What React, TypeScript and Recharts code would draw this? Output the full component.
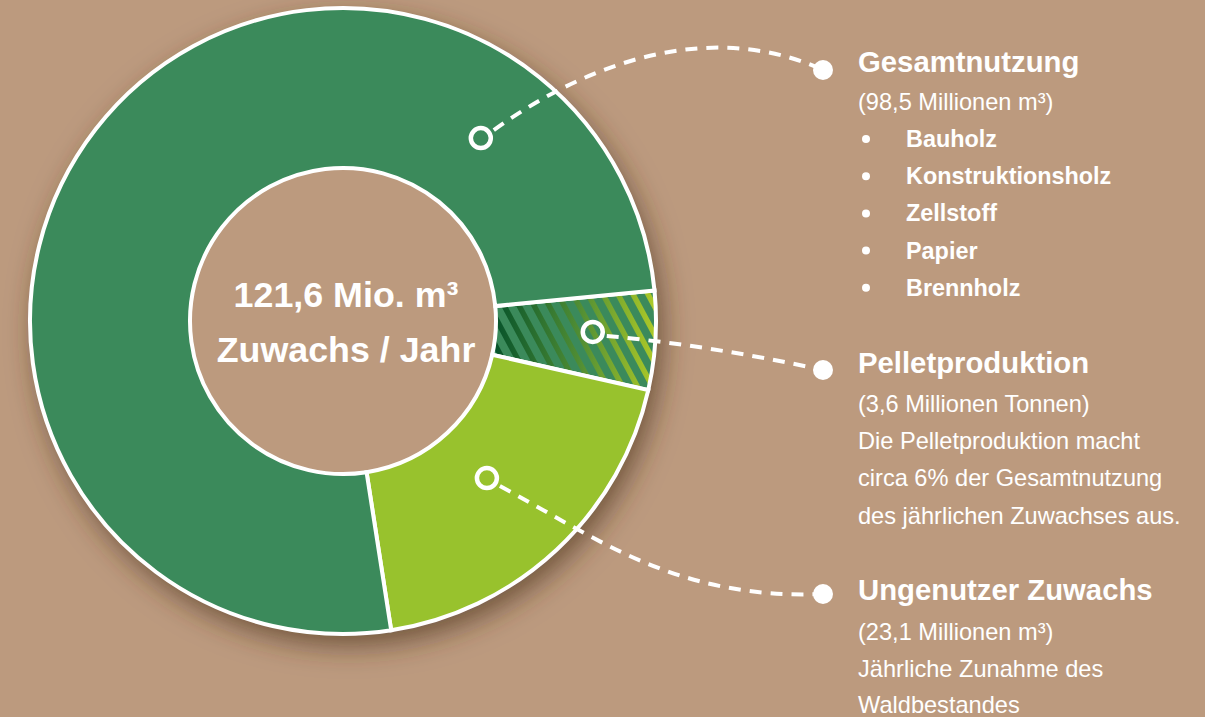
import React from 'react';
import { PieChart, Pie, Cell } from 'recharts';

// ---- data ----
const categories = ['Pelletproduktion', 'Ungenutzer Zuwachs', 'Gesamtnutzung'];
const values = [6.2, 23.1, 92.3];
const totalLabel = ['121,6 Mio. m³', 'Zuwachs / Jahr'];
const gesamtBullets = ['Bauholz', 'Konstruktionsholz', 'Zellstoff', 'Papier', 'Brennholz'];
const gesamtSub = '(98,5 Millionen m³)';
const pelletLines = ['(3,6 Millionen Tonnen)', 'Die Pelletproduktion macht', 'circa 6% der Gesamtnutzung', 'des jährlichen Zuwachses aus.'];
const ungenutztLines = ['(23,1 Millionen m³)', 'Jährliche Zunahme des', 'Waldbestandes'];

const data = categories.map((name, i) => ({ name, value: values[i] }));

const BG = '#bc9a7e';
const DARK = '#3b8a5b';
const LIME = '#98c22d';
const FONT = '"Liberation Sans", Arial, Helvetica, sans-serif';

const CX = 343;
const CY = 321;
const START = 5.6;

// connector anchors: angle (deg), radius, end dot y, curve control points
const anchors = [
  { angle: -2.5, r: 250, endY: 370, path: (x: number, y: number, ex: number, ey: number) => `M ${x + 14} ${y + 4} Q ${x + 120} ${y + 14} ${ex} ${ey}` },
  { angle: -47.5, r: 213, endY: 594, path: (x: number, y: number, ex: number, ey: number) => `M ${x + 13} ${y + 8} C ${x + 110} ${y + 60} ${x + 190} ${y + 122} ${ex} ${ey}` },
  { angle: 53, r: 229, endY: 70, path: (x: number, y: number, ex: number, ey: number) => `M ${x + 13} ${y - 8} C ${x + 120} ${y - 85} ${x + 240} ${y - 115} ${ex} ${ey}` },
];

const RAD = Math.PI / 180;

const renderLabel = (props: any) => {
  const { cx, cy, index } = props;
  const a = anchors[index];
  const x = cx + a.r * Math.cos(a.angle * RAD);
  const y = cy - a.r * Math.sin(a.angle * RAD);
  const ex = 823;
  const ey = a.endY;
  return (
    <g key={`lbl-${index}`}>
      <path d={a.path(x, y, ex, ey)} fill="none" stroke="#fff" strokeWidth={4} strokeDasharray="12 9" />
      <circle cx={x} cy={y} r={10} fill="none" stroke="#fff" strokeWidth={4.5} />
      <circle cx={ex} cy={ey} r={10} fill="#fff" />
    </g>
  );
};

const stripes: number[] = [];
for (let x = 380; x <= 700; x += 15) stripes.push(x);

export default function App() {
  const titleStyle = { fontFamily: FONT, fontWeight: 700, fontSize: 29.3, fill: '#fff' } as const;
  const regStyle = { fontFamily: FONT, fontWeight: 400, fontSize: 23.6, fill: '#fff' } as const;
  const bulletStyle = { fontFamily: FONT, fontWeight: 700, fontSize: 23.4, fill: '#fff' } as const;
  const centerStyle = { fontFamily: FONT, fontWeight: 700, fontSize: 35.8, fill: '#fff' } as const;
  return (
    <div style={{ position: 'absolute', left: 0, top: 0, width: 1205, height: 717, background: BG, overflow: 'hidden' }}>
      <svg width={1205} height={717} style={{ position: 'absolute', left: 0, top: 0 }}>
        <defs>
          <filter id="ringShadow" x="-20%" y="-20%" width="140%" height="140%">
            <feDropShadow dx={6} dy={11} stdDeviation={14} floodColor="#4a2f1c" floodOpacity={0.65} />
          </filter>
          <linearGradient id="stripeGrad" gradientUnits="userSpaceOnUse" x1={495} y1={0} x2={660} y2={0}>
            <stop offset="0" stopColor="#07532a" />
            <stop offset="0.5" stopColor="#4e8c34" />
            <stop offset="1" stopColor="#b3cd27" />
          </linearGradient>
          <pattern id="hatch" patternUnits="userSpaceOnUse" x={0} y={0} width={1205} height={717}>
            <rect x={0} y={0} width={1205} height={717} fill={DARK} />
            {stripes.map((sx) => (
              <line key={sx} x1={sx} y1={270} x2={sx + 75} y2={410} stroke="url(#stripeGrad)" strokeWidth={5.5} />
            ))}
          </pattern>
        </defs>
      </svg>
      <div style={{ position: 'absolute', left: 0, top: 0 }}>
        <PieChart width={1205} height={717} margin={{ top: 0, right: 0, bottom: 0, left: 0 }}>
          <Pie
            data={[{ name: 'shadow', value: 1 }]}
            dataKey="value"
            cx={CX}
            cy={CY}
            innerRadius={0}
            outerRadius={314}
            stroke="none"
            isAnimationActive={false}
          >
            <Cell fill={BG} filter="url(#ringShadow)" />
          </Pie>
          <Pie
            data={data}
            dataKey="value"
            nameKey="name"
            cx={CX}
            cy={CY}
            innerRadius={153}
            outerRadius={313}
            startAngle={START}
            endAngle={START - 360}
            stroke="#fff"
            strokeWidth={4}
            label={renderLabel}
            labelLine={false}
            isAnimationActive={false}
          >
            <Cell fill="url(#hatch)" />
            <Cell fill={LIME} />
            <Cell fill={DARK} />
          </Pie>
        </PieChart>
      </div>
      <svg width={1205} height={717} style={{ position: 'absolute', left: 0, top: 0, pointerEvents: 'none' }}>
        <text x={CX + 3} y={307} textAnchor="middle" style={centerStyle}>{totalLabel[0]}</text>
        <text x={CX + 3} y={362} textAnchor="middle" style={centerStyle}>{totalLabel[1]}</text>

        <text x={858} y={72} style={titleStyle}>{categories[2]}</text>
        <text x={858} y={110} style={regStyle}>{gesamtSub}</text>
        {gesamtBullets.map((b, i) => (
          <g key={b}>
            <circle cx={866} cy={139 + i * 37.2} r={4} fill="#fff" />
            <text x={906} y={147 + i * 37.2} style={bulletStyle}>{b}</text>
          </g>
        ))}

        <text x={858} y={373} style={titleStyle}>{categories[0]}</text>
        {pelletLines.map((l, i) => (
          <text key={l} x={858} y={412 + i * 37.2} style={regStyle}>{l}</text>
        ))}

        <text x={858} y={600} style={titleStyle}>{categories[1]}</text>
        {ungenutztLines.map((l, i) => (
          <text key={l} x={858} y={640 + i * 36.5} style={regStyle}>{l}</text>
        ))}
      </svg>
    </div>
  );
}
